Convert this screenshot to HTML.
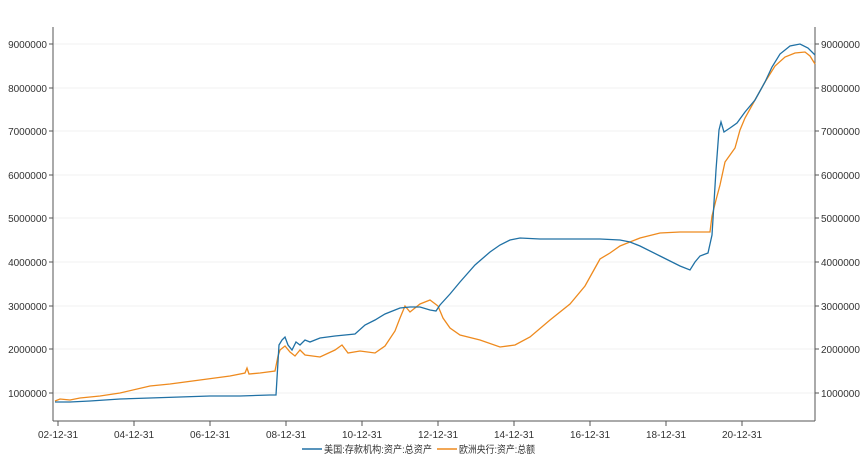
<!DOCTYPE html>
<html><head><meta charset="utf-8"><style>
body{margin:0;background:#fff;font-family:"Liberation Sans","Noto Sans CJK SC",sans-serif;}
</style></head><body>
<svg width="864" height="458" xmlns="http://www.w3.org/2000/svg" font-family="Liberation Sans, Noto Sans CJK SC, sans-serif" font-size="10" fill="#333">
<g stroke="#f2f2f2" stroke-width="1">
<line x1="53" x2="815" y1="44" y2="44"/><line x1="53" x2="815" y1="88" y2="88"/><line x1="53" x2="815" y1="131" y2="131"/><line x1="53" x2="815" y1="175" y2="175"/><line x1="53" x2="815" y1="218" y2="218"/><line x1="53" x2="815" y1="262" y2="262"/><line x1="53" x2="815" y1="306" y2="306"/><line x1="53" x2="815" y1="349" y2="349"/><line x1="53" x2="815" y1="393" y2="393"/>
</g>
<g stroke="#555" stroke-width="1">
<line x1="53" y1="27" x2="53" y2="421"/><line x1="815" y1="27" x2="815" y2="421"/><line x1="53" y1="421" x2="815" y2="421"/>
<path d="M49 44h4M49 88h4M49 131h4M49 175h4M49 218h4M49 262h4M49 306h4M49 349h4M49 393h4M815 44h4M815 88h4M815 131h4M815 175h4M815 218h4M815 262h4M815 306h4M815 349h4M815 393h4M58 421v5M134 421v5M210 421v5M286 421v5M362 421v5M438 421v5M514 421v5M590 421v5M666 421v5M742 421v5"/>
</g>
<g text-anchor="end">
<text x="47" y="48">9000000</text><text x="47" y="92">8000000</text><text x="47" y="135">7000000</text><text x="47" y="179">6000000</text><text x="47" y="222">5000000</text><text x="47" y="266">4000000</text><text x="47" y="310">3000000</text><text x="47" y="353">2000000</text><text x="47" y="397">1000000</text>
</g>
<g>
<text x="821" y="48">9000000</text><text x="821" y="92">8000000</text><text x="821" y="135">7000000</text><text x="821" y="179">6000000</text><text x="821" y="222">5000000</text><text x="821" y="266">4000000</text><text x="821" y="310">3000000</text><text x="821" y="353">2000000</text><text x="821" y="397">1000000</text>
</g>
<g text-anchor="middle">
<text x="58" y="438">02-12-31</text><text x="134" y="438">04-12-31</text><text x="210" y="438">06-12-31</text><text x="286" y="438">08-12-31</text><text x="362" y="438">10-12-31</text><text x="438" y="438">12-12-31</text><text x="514" y="438">14-12-31</text><text x="590" y="438">16-12-31</text><text x="666" y="438">18-12-31</text><text x="742" y="438">20-12-31</text>
</g>
<polyline fill="none" stroke="#ee8a1e" stroke-width="1.3" points="55,401 60,399 70,400 80,398 100,396 120,393 150,386 170,384 200,380 230,376 245,373 247,368 249,374 260,373 275,371 278,356 280,350 285,346 290,352 295,356 300,350 305,355 320,357 335,350 342,345 348,353 360,351 375,353 385,346 395,331 400,318 405,306 410,312 420,304 430,300 438,306 443,318 450,328 460,335 480,340 500,347 515,345 530,337 550,320 570,304 585,286 595,268 600,259 610,253 620,246 640,238 660,233 680,232 700,232 710,232 712,216 716,200 720,185 725,162 730,155 735,148 740,130 745,118 755,100 765,82 775,66 785,57 795,53 805,52 810,56 815,64"/>
<polyline fill="none" stroke="#2071a5" stroke-width="1.3" points="55,402 70,402 90,401 120,399 150,398 180,397 210,396 240,396 270,395 276,395 279,345 282,340 285,337 288,345 292,350 296,342 300,345 305,340 310,342 320,338 335,336 355,334 365,325 375,320 385,314 395,310 400,308 410,307 420,307 430,310 436,311 440,305 450,294 460,282 475,265 490,252 500,245 510,240 520,238 540,239 560,239 580,239 600,239 620,240 630,242 640,246 660,256 680,266 690,270 695,262 700,256 708,253 712,235 716,170 719,130 721,122 724,132 730,128 737,123 745,112 755,100 765,82 772,67 780,54 790,46 800,44 808,48 815,55"/>
<line x1="302" y1="449" x2="322" y2="449" stroke="#2071a5" stroke-width="1.5"/>
<text x="324" y="453" textLength="108" lengthAdjust="spacingAndGlyphs">美国:存款机构:资产:总资产</text>
<line x1="437" y1="449" x2="457" y2="449" stroke="#ee8a1e" stroke-width="1.5"/>
<text x="459" y="453" textLength="76" lengthAdjust="spacingAndGlyphs">欧洲央行:资产:总额</text>
</svg>
</body></html>
